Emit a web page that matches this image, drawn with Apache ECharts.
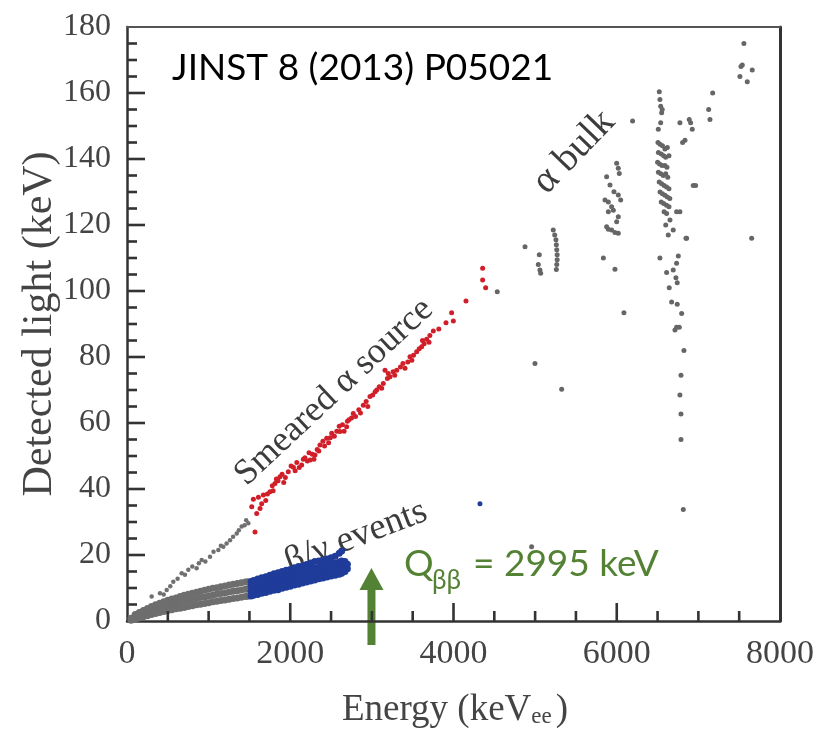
<!DOCTYPE html>
<html><head><meta charset="utf-8">
<script src="https://cdn.jsdelivr.net/npm/echarts@6/dist/echarts.min.js"></script>
<style>html,body{margin:0;padding:0;background:#fff}#c{width:819px;height:733px}</style>
</head><body><div id="c"></div>
<script>
// Axis ranges [min, max, major interval]
const energyAxis = [0, 8000, 2000];
const lightAxis = [0, 180, 20];
// tick positions on each axis
const energyMajorTicks = [2000, 4000, 6000];
const energyMinorTicks = [500,1000,1500,2500,3000,3500,4500,5000,5500,6500,7000,7500];
const lightMajorTicks = [20,40,60,80,100,120,140,160];
const lightMinorTicks = [5,10,15,25,30,35,45,50,55,65,70,75,85,90,95,105,110,115,125,130,135,145,150,155,165,170,175];
const qbbEnergy = 2995;

// beta/gamma band, low-energy part (grey)
const betaGammaGray = [
[50,0.2],[50,0.8],
[100,0.5],[100,1.2],[100,2.0],
[150,0.9],[150,1.8],[150,2.6],
[200,1.3],[200,2.3],[200,3.2],
[250,1.6],[250,2.8],[250,3.8],
[300,2.0],[300,3.2],[300,4.4],
[350,2.3],[350,3.6],[350,4.9],
[400,2.6],[400,4.0],[400,5.4],
[450,2.9],[450,4.4],[450,5.8],
[500,3.2],[500,4.8],[500,6.3],
[550,3.4],[550,5.1],[550,6.7],
[600,3.7],[600,5.4],[600,7.0],
[650,3.9],[650,5.7],[650,7.4],
[700,4.1],[700,6.0],[700,7.8],
[750,4.4],[750,6.3],[750,8.1],
[800,4.6],[800,6.5],[800,8.4],
[850,4.9],[850,6.8],[850,8.7],
[900,5.1],[900,7.1],[900,9.0],
[950,5.3],[950,7.3],[950,9.3],
[1000,5.5],[1000,7.6],[1000,9.6],
[1050,5.8],[1050,7.8],[1050,9.9],
[1100,6.0],[1100,8.1],[1100,10.1],
[1150,6.2],[1150,8.3],[1150,10.4],
[1200,6.4],[1200,8.5],[1200,10.6],
[1250,6.6],[1250,8.8],[1250,10.9],
[1300,6.8],[1300,9.0],[1300,11.1],
[1350,7.0],[1350,9.2],[1350,11.4],
[1400,7.2],[1400,9.4],[1400,11.6],
[1450,7.4],[1450,9.6],[1450,11.8],
[1480,7.5],[1480,9.7],[1480,11.9]
];

// beta/gamma band, high-energy part (blue)
const betaGammaBlue = [
[1520,7.6],[1520,9.0],[1520,10.6],[1520,12.0],
[1550,7.8],[1550,9.3],[1550,10.8],[1550,12.3],
[1600,8.0],[1600,9.7],[1600,11.2],[1600,12.7],
[1650,8.4],[1650,10.0],[1650,11.5],[1650,13.1],
[1700,8.6],[1700,10.3],[1700,11.9],[1700,13.4],
[1750,9.0],[1750,10.6],[1750,12.3],[1750,13.9],
[1800,9.3],[1800,11.0],[1800,12.6],[1800,14.3],
[1850,9.5],[1850,11.3],[1850,13.0],[1850,14.6],
[1900,9.9],[1900,11.6],[1900,13.3],[1900,15.0],
[1950,10.2],[1950,12.0],[1950,13.7],[1950,15.4],
[2000,10.5],[2000,12.2],[2000,14.0],[2000,15.6],
[2050,10.9],[2050,12.6],[2050,14.3],[2050,16.1],
[2100,11.1],[2100,12.9],[2100,14.7],[2100,16.5],
[2150,11.5],[2150,13.2],[2150,15.0],[2150,16.7],
[2200,11.8],[2200,13.6],[2200,15.3],[2200,17.1],
[2250,12.1],[2250,13.9],[2250,15.7],[2250,17.6],
[2300,12.4],[2300,14.2],[2300,16.0],[2300,18.0],
[2350,12.8],[2350,14.5],[2350,16.3],[2350,18.2],
[2400,13.0],[2400,14.8],[2400,16.6],[2400,18.5],
[2450,13.3],[2450,15.1],[2450,17.0],[2450,18.8],
[2500,13.6],[2500,15.4],[2500,17.2],[2500,19.2],
[2550,13.9],[2550,15.8],[2550,17.6],[2550,19.6],
[2600,14.2],[2600,16.0],[2600,17.9],[2600,20.5],
[2630,14.5],[2630,16.3],[2630,18.2],[2630,21.2],
[2670,15.0],[2670,16.6],[2670,18.0],
[2700,15.8],[2700,17.2]
];
const betaGammaOutlier = [[4324,35.5]];

// alpha line below the smeared source (grey)
const alphaSurfaceGray = [
[302,7.4],[404,8.4],[450,8.0],[486,9.4],[530,10.5],[567,11.9],[620,12.8],[670,14.5],
[710,14.0],[751,15.5],[800,16.5],[853,16.0],[880,17.5],[915,18.5],[960,18.0],
[1017,19.5],[1060,21.0],[1119,21.5],[1150,22.8],[1180,22.5],[1220,23.5],[1262,24.5],
[1300,25.5],[1344,26.5],[1370,27.5],[1405,28.6],[1440,29.0],[1486,29.6],[1460,30.5]
];

// smeared alpha source (red)
const smearedSourceRed = [
[1528,34.6],[1548,36.9],[1568,27.0],[1589,32.6],[1630,34.1],[1610,37.5],[1670,38.2],[1700,36.5],
[1752,39.2],[1780,41.0],[1813,41.7],[1850,42.5],[1874,43.7],[1900,44.5],[1940,43.5],[1976,45.2],
[2010,47.0],[2038,46.6],[2080,48.0],[2110,46.5],[2140,47.3],[2180,49.5],[2210,48.5],[2242,48.8],
[2270,50.5],[2303,50.3],[2330,52.0],[2364,53.3],[2400,54.5],[2446,55.4],[2470,54.0],[2508,56.9],
[2540,56.0],[2570,57.5],[2609,57.4],[2640,59.5],[2691,58.9],[2720,61.0],[2750,61.5],[2772,62.9],
[2800,62.0],[2840,64.0],[2895,65.4],[2930,66.5],[2977,68.0],[3010,68.5],[3059,70.0],[3090,71.0],
[3140,72.0],[3161,76.0],[3190,73.5],[3222,74.0],[3260,75.5],[3304,76.0],[3350,77.0],[3406,76.6],
[3440,78.5],[3467,80.1],[3510,80.5],[3549,81.6],[3580,82.5],[3610,83.1],[3640,84.0],[3671,85.4],
[3710,86.5],[3753,87.9],[3908,90.4],[3977,93.4],[3998,90.9],[4153,97.0],[4357,106.9],[4357,103.3],[4394,101.0],
[1650,35.5],[1720,38.5],[1790,39.5],[1830,43.0],[1920,42.0],[2060,45.5],[2160,49.0],[2230,51.0],
[2290,49.0],[2350,51.5],[2420,53.0],[2490,55.5],[2600,59.0],[2660,57.5],[2700,60.5],[2860,63.0],
[2950,65.0],[3040,69.5],[3120,70.5],[3200,75.0],[3280,74.5],[3380,78.0],[3490,79.0],[3620,85.0],
[3700,84.5],[3820,88.5]
];

// alpha bulk events (grey)
const alphaBulkGray = [
[4536,99.8],[4876,113.4],[4957,22.5],[4998,78.0],[5039,108.0],[5051,111.0],[5059,106.4],[5068,105.4],[5325,70.2],
[5222,118.5],[5240,117.0],[5255,115.5],[5260,114.0],[5265,112.5],[5270,111.0],[5270,109.5],[5265,108.0],[5260,106.5],
[5999,138.7],[6019,137.2],[6031,135.6],[5876,134.6],[5917,132.1],[5966,130.1],[6019,129.1],[6048,127.6],
[5897,127.0],[5937,125.5],[6019,122.5],[5876,119.5],[5937,118.5],[6019,117.5],[5836,110.0],[5978,106.6],
[5856,127.6],[5897,124.0],[5958,124.5],[5999,121.0],[5897,118.7],[5978,117.7],
[6521,160.4],[6529,158.0],[6538,156.0],[6557,155.0],[6550,154.0],[6538,151.0],[6509,149.0],
[6505,145.0],[6530,144.5],[6560,144.0],[6590,143.0],[6620,143.5],[6510,142.0],[6545,141.5],[6575,141.0],
[6600,140.5],[6640,141.0],[6500,139.0],[6525,138.5],[6555,138.0],[6590,138.0],[6615,137.5],[6510,136.0],
[6540,135.5],[6570,135.0],[6600,135.5],[6625,134.5],[6520,133.0],[6550,132.5],[6580,132.0],[6610,131.5],
[6640,131.0],[6530,130.0],[6560,129.5],[6590,129.0],[6620,128.5],[6650,128.0],[6545,127.0],[6575,126.5],
[6610,126.0],[6640,125.5],[6580,124.0],[6611,123.5],[6652,121.5],[6692,118.5],[6631,117.0],[6733,124.0],[6600,120.0],
[6754,110.6],[6529,110.0],[6733,108.4],[6611,105.6],[6692,106.4],[6725,104.0],[6741,102.5],[6643,101.0],
[6672,96.7],[6741,96.0],[6795,93.2],[6713,88.2],[6766,89.0],[6733,89.0],
[6823,82.0],[6787,74.5],[6774,68.5],[6787,62.7],[6787,55.0],[6815,33.8],
[6088,93.4],[6194,151.5],[6774,151.0],[6807,145.0],[6836,145.7],[6937,132.0],[6966,132.0],[6856,116.0],[6774,124.0],
[7558,175.0],[7538,168.5],[7522,168.0],[7660,167.0],[7509,165.0],[7599,163.4],[7175,160.0],[7126,155.0],
[7142,152.0],[6888,152.0],[6905,151.0],[6925,149.0],[6848,116.0],[7653,116.0]
];

const SERIF = '"Liberation Serif", "Times New Roman", serif';
const AXC = '#333333';
const chart = echarts.init(document.getElementById('c'), null, {renderer: 'canvas'});

function scatter(name, data, color, size) {
  return {name, type: 'scatter', data, symbol: 'circle', symbolSize: size,
    progressive: 0, large: false, itemStyle: {color, opacity: 1}};
}
// inside tick marks as rect symbols anchored on the axes through the scales
function tickSeries(data, size, offset) {
  return {type: 'scatter', data, symbol: 'rect', symbolSize: size, symbolOffset: offset,
    clip: false, silent: true, progressive: 0, large: false, itemStyle: {color: AXC, opacity: 1}, z: 3};
}
const plain = v => String(v);

chart.setOption({
  animation: false,
  backgroundColor: '#fff',
  grid: {left: 127, right: 39, top: 27, bottom: 112, containLabel: false},
  xAxis: [{
    type: 'value', min: energyAxis[0], max: energyAxis[1], interval: energyAxis[2],
    axisLine: {show: true, onZero: false, lineStyle: {color: AXC, width: 2.5}},
    axisTick: {show: false}, splitLine: {show: false},
    axisLabel: {fontFamily: SERIF, fontSize: 34, color: '#444', margin: 16, formatter: plain}
  }, {
    type: 'value', position: 'top', min: energyAxis[0], max: energyAxis[1],
    axisLine: {show: true, onZero: false, lineStyle: {color: '#555', width: 2}},
    axisTick: {show: false}, axisLabel: {show: false}, splitLine: {show: false}
  }],
  yAxis: [{
    type: 'value', min: lightAxis[0], max: lightAxis[1], interval: lightAxis[2],
    axisLine: {show: true, onZero: false, lineStyle: {color: AXC, width: 2.5}},
    axisTick: {show: false}, splitLine: {show: false},
    axisLabel: {fontFamily: SERIF, fontSize: 32, color: '#444', margin: 16, formatter: plain}
  }, {
    type: 'value', position: 'right', min: lightAxis[0], max: lightAxis[1],
    axisLine: {show: true, onZero: false, lineStyle: {color: '#333', width: 3}},
    axisTick: {show: false}, axisLabel: {show: false}, splitLine: {show: false}
  }],
  series: [
    tickSeries(lightMajorTicks.map(v => [energyAxis[0], v]), [18, 2.6], [9, 0]),
    tickSeries(lightMinorTicks.map(v => [energyAxis[0], v]), [10, 2.6], [5, 0]),
    tickSeries(energyMajorTicks.map(v => [v, lightAxis[0]]), [2.6, 18], [0, -9]),
    tickSeries(energyMinorTicks.map(v => [v, lightAxis[0]]), [2.6, 10], [0, -5]),
    scatter('β/γ low', betaGammaGray, '#6e6e6e', 7),
    scatter('β/γ high', betaGammaBlue, '#1f3c9a', 7),
    scatter('β/γ outlier', betaGammaOutlier, '#1f3c9a', 5),
    scatter('α surface', alphaSurfaceGray, '#707070', 4.5),
    scatter('Smeared α source', smearedSourceRed, '#d11f2a', 5),
    scatter('α bulk', alphaBulkGray, '#666666', 5)
  ]
});

const ax = chart.convertToPixel({xAxisIndex: 0}, qbbEnergy);
const GREEN = '#548235';
const deg = Math.PI / 180;
chart.setOption({
  graphic: [
    {type: 'text', x: 40, y: 324, rotation: 90 * deg, style: {text: 'Detected light (keV)', font: '42px ' + SERIF, fill: '#444', align: 'center', verticalAlign: 'middle'}},
    {type: 'text', x: 455, y: 710, style: {text: 'Energy (keV{sub|ee})', font: '37px ' + SERIF, fill: '#444', align: 'center', verticalAlign: 'middle',
      rich: {sub: {font: '23px ' + SERIF, fill: '#444', verticalAlign: 'bottom', padding: [14, 4, 0, 0]}}}},
    {type: 'text', x: 172, y: 68, style: {text: 'JINST 8 (2013) P05021', font: '37px Lato', fill: '#000', align: 'left', verticalAlign: 'middle'}},
    {type: 'text', x: 574, y: 152, rotation: 46 * deg, style: {text: 'α bulk', font: '39px ' + SERIF, fill: '#3c3c3c', align: 'center', verticalAlign: 'middle'}},
    {type: 'text', x: 334, y: 392, rotation: 43 * deg, style: {text: 'Smeared α source', font: '36px ' + SERIF, fill: '#3c3c3c', align: 'center', verticalAlign: 'middle'}},
    {type: 'text', x: 356, y: 537, rotation: 21 * deg, style: {text: 'β/γ events', font: '37px ' + SERIF, fill: '#3c3c3c', align: 'center', verticalAlign: 'middle'}},
    {type: 'polygon', shape: {points: [[ax - 4, 645], [ax - 4, 590], [ax - 12, 590], [ax, 568], [ax + 12, 590], [ax + 4, 590], [ax + 4, 645]]}, style: {fill: GREEN}},
    {type: 'text', x: 404, y: 564, style: {text: 'Q', font: '37px Lato', fill: GREEN, align: 'left', verticalAlign: 'middle'}},
    {type: 'text', x: 432, y: 581, style: {text: 'ββ', font: '26px Lato', fill: GREEN, align: 'left', verticalAlign: 'middle'}},
    {type: 'text', x: 473, y: 564, style: {text: '= 2995 keV', font: '37px Lato', fill: GREEN, align: 'left', verticalAlign: 'middle'}}
  ]
});
</script>
</body></html>
